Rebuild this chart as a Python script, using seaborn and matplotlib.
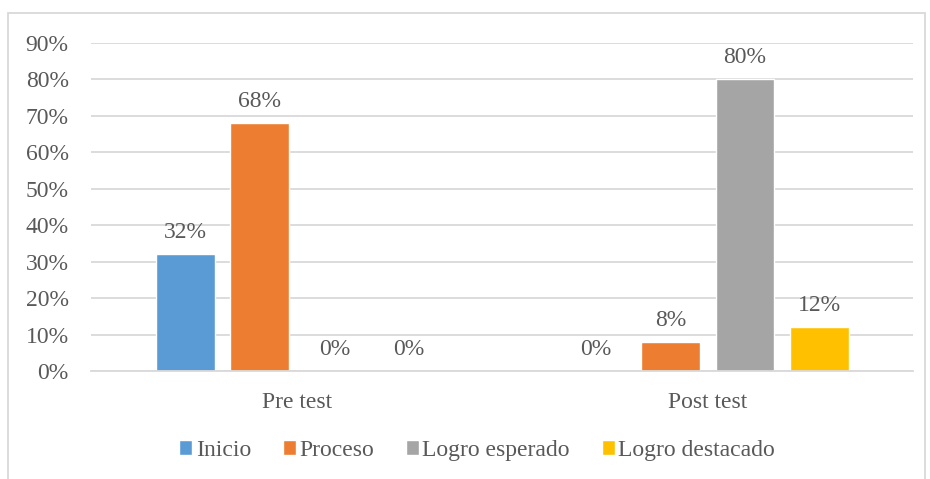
import matplotlib
matplotlib.use("Agg")
import matplotlib.pyplot as plt
import seaborn as sns
import pandas as pd
from matplotlib.patches import Rectangle

# data
groups = ["Pre test", "Post test"]
levels = ["Inicio", "Proceso", "Logro esperado", "Logro destacado"]
pre_test = [0.32, 0.68, 0.0, 0.0]
post_test = [0.0, 0.08, 0.80, 0.12]
colors = ["#5B9BD5", "#ED7D31", "#A5A5A5", "#FFC000"]
y_ticks = [0.0, 0.1, 0.2, 0.3, 0.4, 0.5, 0.6, 0.7, 0.8, 0.9]

rows = []
for g, vals in zip(groups, [pre_test, post_test]):
    for lvl, v in zip(levels, vals):
        rows.append({"grupo": g, "nivel": lvl, "valor": v})
df = pd.DataFrame(rows)

sns.set_style("white")
plt.rcParams["font.family"] = ["Liberation Serif", "DejaVu Serif"]
text_color = "#595959"
grid_color = "#D9D9D9"
fs = 17

fig = plt.figure(figsize=(9.3, 4.79), dpi=100)
ax = fig.add_axes([0.0978, 0.2255, 0.8839, 0.6847])

sns.barplot(data=df, x="grupo", y="valor", hue="nivel", order=groups,
            hue_order=levels, palette=colors, width=0.727, gap=0.21,
            saturation=1, ax=ax, legend=True)

for cont in ax.containers:
    ax.bar_label(cont, labels=[f"{b.get_height() * 100:.0f}%" for b in cont],
                 padding=8, fontsize=fs, color=text_color)

ax.set_ylim(0, 0.9)
ax.set_xlim(-0.502, 1.5)
ax.set_yticks(y_ticks)
ax.set_yticklabels([f"{t * 100:.0f}%" for t in y_ticks])
ax.yaxis.grid(True, color=grid_color, linewidth=1.3)
ax.set_axisbelow(True)
ax.tick_params(axis="both", length=0, labelsize=fs, labelcolor=text_color)
ax.tick_params(axis="x", pad=15)
ax.tick_params(axis="y", pad=16)
ax.set_xlabel("")
ax.set_ylabel("")
for side in ["top", "right", "left"]:
    ax.spines[side].set_visible(False)
ax.spines["bottom"].set_color(grid_color)
ax.spines["bottom"].set_linewidth(1.3)

handles, labels = ax.get_legend_handles_labels()
ax.legend_.remove()
fig.legend(handles, labels, loc="center", bbox_to_anchor=(0.513, 0.06), ncol=4,
           frameon=False, fontsize=fs, labelcolor=text_color, handlelength=0.55,
           handleheight=0.55, handletextpad=0.15, columnspacing=1.35)

fig.patches.append(Rectangle((8 / 930, -0.01), 917 / 930, 1 - 13 / 479 + 0.01,
                             transform=fig.transFigure, fill=False,
                             edgecolor=grid_color, linewidth=1.3))

fig.savefig("out.png", dpi=100)
